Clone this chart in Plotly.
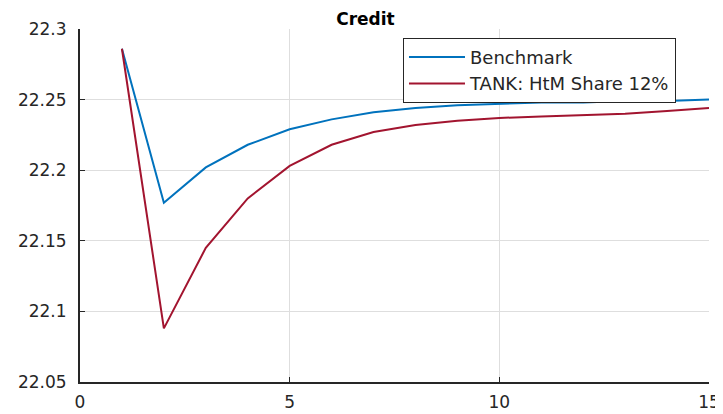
import plotly.graph_objects as go

# horizon (quarters)
periods = list(range(1, 16))

# Benchmark credit path
benchmark = [22.286, 22.177, 22.202, 22.218, 22.229, 22.236, 22.241, 22.244,
             22.246, 22.247, 22.248, 22.248, 22.249, 22.249, 22.250]

# TANK: HtM share 12%
tank = [22.286, 22.088, 22.145, 22.180, 22.203, 22.218, 22.227, 22.232,
        22.235, 22.237, 22.238, 22.239, 22.240, 22.242, 22.244]

x_ticks = [0, 5, 10, 15]
y_ticks = [22.05, 22.1, 22.15, 22.2, 22.25, 22.3]
y_labels = ["22.05", "22.1", "22.15", "22.2", "22.25", "22.3"]

fig = go.Figure()
fig.add_trace(go.Scatter(x=periods, y=benchmark, mode='lines', name='Benchmark',
                         line=dict(color='#0072BD', width=2)))
fig.add_trace(go.Scatter(x=periods, y=tank, mode='lines', name='TANK: HtM Share 12%',
                         line=dict(color='#A2142F', width=2)))

# page body has an 8px margin, so the figure is a bit smaller than the window
fig.update_layout(
    width=715, height=406,
    margin=dict(l=72, r=14, t=21, b=32, autoexpand=False),
    paper_bgcolor='white', plot_bgcolor='white',
    font=dict(family='DejaVu Sans, sans-serif', size=17, color='#262626'),
    title=dict(text='<b>Credit</b>', x=0.5, xanchor='center', y=0.972, yanchor='middle',
               font=dict(size=17, color='black')),
    legend=dict(x=0.5135, y=0.975, xanchor='left', yanchor='top',
                bgcolor='white', bordercolor='#262626', borderwidth=1,
                font=dict(size=18, color='#262626'), tracegroupgap=0,
                itemwidth=56),
    showlegend=True,
)
fig.update_xaxes(range=[0, 15], tickvals=x_ticks, showgrid=True, gridcolor='#dedede',
                 showline=True, linecolor='#262626', linewidth=2, ticks='inside',
                 ticklen=5, tickcolor='#262626', zeroline=False, automargin=False,
                 ticklabelstandoff=4)
fig.update_yaxes(range=[22.05, 22.3], tickvals=y_ticks, ticktext=y_labels, showgrid=True,
                 gridcolor='#dedede', showline=True, linecolor='#262626', linewidth=2,
                 ticks='inside', ticklen=5, tickcolor='#262626', zeroline=False,
                 automargin=False, ticklabelstandoff=8)

fig.write_html("out.html")
